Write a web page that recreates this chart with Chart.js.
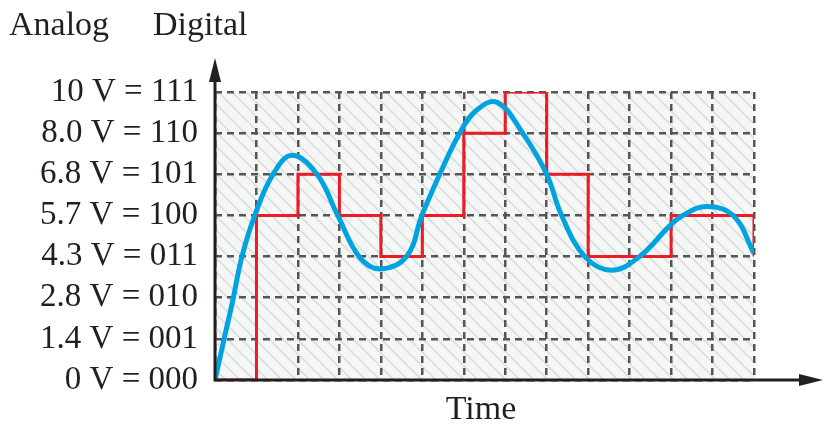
<!DOCTYPE html>
<html>
<head>
<meta charset="utf-8">
<script src="https://cdn.jsdelivr.net/npm/chart.js@4"></script>
<style>
  html, body { margin: 0; padding: 0; background: #fff; }
  #wrap { width: 824px; height: 426px; }
</style>
</head>
<body>
<div id="wrap"><canvas id="adc"></canvas></div>
<script>
// y levels 0..7 and their labels
const levelLabels = ['0 V = 000', '1.4 V = 001', '2.8 V = 010', '4.3 V = 011',
  '5.7 V = 100', '6.8 V = 101', '8.0 V = 110', '10 V = 111'];

// digital (red) output: one level per time slot, last point closes the step
const digitalTime = [0, 1, 2, 3, 4, 5, 6, 7, 8, 9, 10, 11, 12, 13];
const digitalLevel = [0, 4, 5, 4, 3, 4, 6, 7, 5, 3, 3, 4, 4, 3];

// analog (blue) signal (time in slots, value in levels)
const analogTime = [0, 0.22, 0.43, 0.65, 0.96, 1.4, 1.86, 2.46, 2.96, 3.49, 3.98, 4.62, 4.99, 5.42, 5.9, 6.3, 6.8, 7.42, 8.0, 8.36, 8.92, 9.57, 10.24, 10.96, 11.28, 11.86, 12.5, 13];
const analogLevel = [0, 1.0, 1.94, 3.0, 4.0, 5.0, 5.46, 5.0, 4.0, 2.98, 2.7, 3.0, 4.0, 5.0, 6.0, 6.55, 6.75, 6.0, 5.0, 4.0, 3.0, 2.67, 3.0, 3.74, 4.0, 4.22, 4.0, 3.08];

const ink = '#231f20';

function makeHatch() {
  const c = document.createElement('canvas');
  c.width = 14; c.height = 14;
  const g = c.getContext('2d');
  g.fillStyle = '#f5f7f7';
  g.fillRect(0, 0, 14, 14);
  g.strokeStyle = '#dcdede';
  g.lineWidth = 1.6;
  g.beginPath();
  g.moveTo(-2, -2); g.lineTo(16, 16);
  g.moveTo(-2, 12); g.lineTo(2, 16);
  g.moveTo(12, -2); g.lineTo(16, 2);
  g.stroke();
  return g.createPattern(c, 'repeat');
}

const decor = {
  id: 'decor',
  beforeDraw(chart) {
    const { ctx, chartArea: a } = chart;
    ctx.save();
    ctx.fillStyle = makeHatch();
    ctx.fillRect(a.left, a.top, a.right - a.left, a.bottom - a.top);
    ctx.restore();
  },
  afterDraw(chart) {
    const { ctx, chartArea: a } = chart;
    ctx.save();
    ctx.strokeStyle = ink;
    ctx.fillStyle = ink;
    ctx.lineWidth = 3;
    // axes
    ctx.beginPath();
    ctx.moveTo(a.left, a.bottom + 1.5);
    ctx.lineTo(a.left, 76);
    ctx.moveTo(a.left - 1.5, a.bottom);
    ctx.lineTo(806, a.bottom);
    ctx.stroke();
    // arrow heads
    ctx.beginPath();
    ctx.moveTo(a.left, 58);
    ctx.lineTo(a.left - 6, 82);
    ctx.lineTo(a.left + 6, 82);
    ctx.closePath();
    ctx.fill();
    ctx.beginPath();
    ctx.moveTo(823, a.bottom);
    ctx.lineTo(799, a.bottom - 6);
    ctx.lineTo(799, a.bottom + 6);
    ctx.closePath();
    ctx.fill();
    // texts
    ctx.font = '34px "Liberation Serif"';
    ctx.textBaseline = 'middle';
    ctx.textAlign = 'left';
    ctx.fillText('Analog', 9, 26);
    ctx.fillText('Digital', 153, 26);
    ctx.textAlign = 'center';
    ctx.fillText('Time', 481, 410);
    ctx.restore();
  }
};

new Chart(document.getElementById('adc'), {
  type: 'line',
  data: {
    datasets: [
      {
        label: 'Digital',
        data: digitalTime.map((t, i) => ({ x: t, y: digitalLevel[i] })),
        stepped: 'before',
        borderColor: '#ec1c24',
        borderWidth: 3,
        pointRadius: 0,
        fill: false,
        order: 2
      },
      {
        label: 'Analog',
        data: analogTime.map((t, i) => ({ x: t, y: analogLevel[i] })),
        tension: 0.4,
        borderColor: '#00a3e0',
        borderWidth: 5,
        pointRadius: 0,
        fill: false,
        order: 1
      }
    ]
  },
  options: {
    responsive: true,
    maintainAspectRatio: false,
    animation: false,
    layout: { padding: { left: 0, top: 92, right: 70, bottom: 46 } },
    plugins: { legend: { display: false }, tooltip: { enabled: false } },
    scales: {
      x: {
        type: 'linear',
        min: 0,
        max: 13,
        ticks: { display: false, stepSize: 1 },
        grid: { color: '#555555', lineWidth: 2.5, drawTicks: false },
        border: { display: false, dash: [7, 5] },
        afterFit(scale) { scale.height = 0; }
      },
      y: {
        min: 0,
        max: 7,
        ticks: {
          stepSize: 1,
          autoSkip: false,
          padding: 17,
          color: ink,
          font: { family: 'Liberation Serif', size: 33 },
          callback: (v) => levelLabels[v]
        },
        grid: { color: '#555555', lineWidth: 2.5, drawTicks: false },
        border: { display: false, dash: [7, 5] },
        afterFit(scale) { scale.width = 215; }
      }
    }
  },
  plugins: [decor]
});
</script>
</body>
</html>
